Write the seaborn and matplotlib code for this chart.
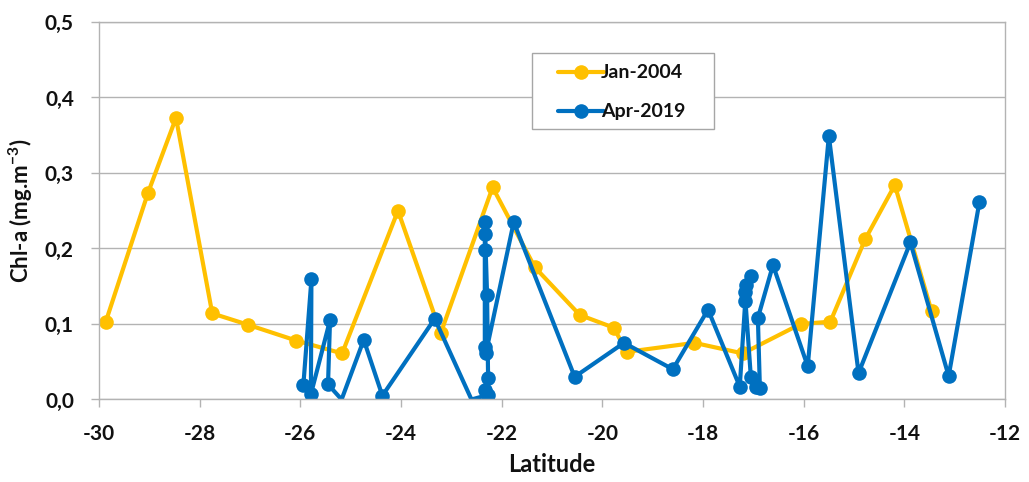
import numpy as np
import pandas as pd
import matplotlib
matplotlib.use("Agg")
import matplotlib.pyplot as plt
from matplotlib.patches import Rectangle
import seaborn as sns

# January 2004 survey: latitude (deg) and chlorophyll-a (mg.m-3)
jan_lat = [-29.87, -29.03, -28.47, -27.75, -27.04, -26.08, -25.17, -24.06,
           -23.21, -22.18, -21.34, -20.45, -19.77, -19.52, -18.17, -17.21,
           -16.06, -15.47, -14.78, -14.19, -13.46]
jan_chl = [0.102, 0.273, 0.373, 0.114, 0.099, 0.078, 0.061, 0.250,
           0.088, 0.281, 0.175, 0.112, 0.095, 0.063, 0.075, 0.061,
           0.100, 0.103, 0.212, 0.284, 0.117]

# April 2019 survey, in station order
apr_lat = [-25.94, -25.78, -25.79, -25.41, -25.45, -25.18, -24.74, -24.37,
           -23.33, -22.60, -22.27, -22.335, -22.27, -22.29, -22.335, -22.335,
           -22.335, -22.335, -22.315, -21.76, -20.55, -19.57, -18.60, -17.90,
           -17.27, -17.16, -17.14, -17.04, -17.17, -17.05, -16.94, -16.87,
           -16.91, -16.61, -15.92, -15.50, -14.91, -13.88, -13.12, -12.51]
apr_chl = [0.019, 0.159, 0.007, 0.105, 0.020, 0.000, 0.079, 0.005,
           0.107, 0.000, 0.006, 0.013, 0.029, 0.139, 0.235, 0.219,
           0.198, 0.070, 0.061, 0.235, 0.030, 0.075, 0.040, 0.119,
           0.017, 0.131, 0.152, 0.163, 0.143, 0.030, 0.017, 0.015,
           0.108, 0.178, 0.044, 0.349, 0.035, 0.208, 0.031, 0.261]

series_names = ["Jan-2004", "Apr-2019"]
series_colors = ["#FFC000", "#0070C0"]

x_ticks = [-30, -28, -26, -24, -22, -20, -18, -16, -14, -12]
x_tick_labels = ["-30", "-28", "-26", "-24", "-22", "-20", "-18", "-16", "-14", "-12"]
y_ticks = [0.0, 0.1, 0.2, 0.3, 0.4, 0.5]
y_tick_labels = ["0,0", "0,1", "0,2", "0,3", "0,4", "0,5"]

sns.set_theme(style="white")
plt.rcParams["font.family"] = ["Lato", "DejaVu Sans"]
plt.rcParams["font.weight"] = "bold"
plt.rcParams["mathtext.fontset"] = "custom"
plt.rcParams["mathtext.rm"] = "Lato:bold"
plt.rcParams["mathtext.bf"] = "Lato:bold"
plt.rcParams["mathtext.default"] = "bf"

text_color = "#111111"
grid_color = "#B3B3B3"

fig = plt.figure(figsize=(10.29, 4.82), dpi=100)
ax = fig.add_axes([0.0962, 0.1712, 0.8805, 0.7832])

df_jan = pd.DataFrame({"lat": jan_lat, "chl": jan_chl})
df_apr = pd.DataFrame({"lat": apr_lat, "chl": apr_chl})

line_kw = dict(linewidth=3.0, marker="o", markersize=10.5,
               markeredgewidth=0, sort=False, estimator=None)

sns.lineplot(data=df_jan, x="lat", y="chl", color=series_colors[0],
             label=series_names[0], ax=ax, **line_kw)
# stations with no measurable chlorophyll are shown as line vertices only
apr_marked = [i for i, v in enumerate(apr_chl) if v > 0]
sns.lineplot(data=df_apr, x="lat", y="chl", color=series_colors[1],
             label=series_names[1], ax=ax, markevery=apr_marked, **line_kw)

ax.set_xlim(-30, -12)
ax.set_ylim(0, 0.5)
ax.set_xticks(x_ticks)
ax.set_xticklabels(x_tick_labels)
ax.set_yticks(y_ticks)
ax.set_yticklabels(y_tick_labels)

ax.yaxis.grid(True, color=grid_color, linewidth=1.0)
ax.xaxis.grid(False)
ax.set_axisbelow(True)
for side in ["left", "bottom", "right", "top"]:
    ax.spines[side].set_visible(True)
    ax.spines[side].set_color(grid_color)
    ax.spines[side].set_linewidth(1.0)

ax.tick_params(axis="x", direction="out", length=6, width=1, color=grid_color,
               labelsize=15, pad=12, bottom=True)
ax.tick_params(axis="y", direction="out", length=6, width=1, color=grid_color,
               labelsize=15, pad=12, left=True)
for lbl in ax.get_xticklabels() + ax.get_yticklabels():
    lbl.set_fontweight("bold")
    lbl.set_color(text_color)

ax.set_xlabel("Latitude", fontsize=17, fontweight="bold", color=text_color, labelpad=6)
ax.set_ylabel(r"Chl-a (mg.m$^{-3}$)", fontsize=16, fontweight="bold",
              color=text_color, labelpad=7)

# legend box drawn as a white framed panel, entries placed inside it
box = Rectangle((0.4776, 0.7158), 0.2012, 0.2029, transform=ax.transAxes,
                facecolor="white", edgecolor="#A6A6A6", linewidth=1.0,
                zorder=4)
ax.add_patch(box)
leg = ax.legend(loc="upper left", bbox_to_anchor=(0.5066, 0.8875),
                frameon=False, fontsize=14, borderpad=0,
                labelspacing=1.13, handlelength=2.35, handletextpad=-0.15,
                borderaxespad=0)
leg.set_zorder(5)
for t in leg.get_texts():
    t.set_fontweight("bold")
    t.set_color(text_color)

fig.savefig("out.png", dpi=100)
